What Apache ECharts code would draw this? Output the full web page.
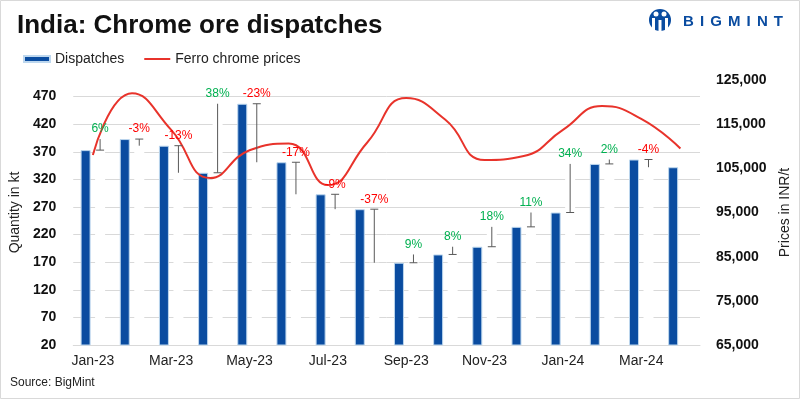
<!DOCTYPE html>
<html>
<head>
<meta charset="utf-8">
<title>India: Chrome ore dispatches</title>
<script src="https://cdn.jsdelivr.net/npm/echarts@6/dist/echarts.min.js"></script>
<style>
  html, body { margin: 0; padding: 0; background: #fff; }
  #chart { width: 800px; height: 399px; }
</style>
</head>
<body>
<div id="chart"></div>
<script>
// months on the x axis
const months = [
  "Jan-23", "Feb-23", "Mar-23", "Apr-23", "May-23", "Jun-23", "Jul-23", "Aug-23",
  "Sep-23", "Oct-23", "Nov-23", "Dec-23", "Jan-24", "Feb-24", "Mar-24", "Apr-24",
];
// chrome ore dispatches, kt
const dispatches = [373, 393, 381, 332, 457, 351, 293, 266, 169, 184, 198, 234, 260, 348, 356, 342];
// ferro chrome prices, INR/t
const prices = [
  108000, 122000, 113700, 102800, 109100, 110600, 101200, 110800,
  120900, 116000, 106900, 107800, 113700, 119100, 116200, 109500,
];
// month-on-month change labels as printed
const pctLabels = ["6%", "-3%", "-13%", "38%", "-23%", "-17%", "-9%", "-37%", "9%", "8%", "18%", "11%", "34%", "2%", "-4%"];

const FONT = "'Liberation Sans', Arial, sans-serif";
const BAR_W = 10;
const BAR_GAP = 0.45;
const BLUE = "#0a4ca0";

// white spacer bar holds next month's value (as in the original workbook)
const nextVals = months.map((m, i) => (i < dispatches.length - 1 ? dispatches[i + 1] : "-"));
const whiskerData = pctLabels.map((t, i) => [i, dispatches[i], dispatches[i + 1]]);

const chart = echarts.init(document.getElementById("chart"));

// BIGMINT wordmark, letters spread out
const logoText = "BIGMINT";
const logoFont = "900 15px " + FONT;
const ctx = document.createElement("canvas").getContext("2d");
ctx.font = logoFont;
const widths = logoText.split("").map((c) => ctx.measureText(c).width);
const total = widths.reduce((a, b) => a + b, 0);
const spacing = (100 - total) / (logoText.length - 1);
const logoLetters = [];
let lx = 683;
logoText.split("").forEach((c, k) => {
  logoLetters.push({
    type: "text",
    x: lx,
    y: 22,
    style: { text: c, fill: BLUE, font: logoFont, verticalAlign: "middle" },
  });
  lx += widths[k] + spacing;
});

const option = {
  animation: false,
  textStyle: { fontFamily: FONT },
  title: {
    text: "India: Chrome ore dispatches",
    left: 12,
    top: 8,
    textStyle: { fontSize: 26, fontWeight: "bold", color: "#111" },
  },
  legend: {
    data: [
      { name: "Dispatches", icon: "rect" },
      { name: "Ferro chrome prices", icon: "path://M0,0 L26,0 L26,2 L0,2 Z" },
    ],
    left: 18,
    top: 47,
    itemWidth: 26,
    itemHeight: 6,
    itemGap: 20,
    selectedMode: false,
    textStyle: { fontSize: 14, color: "#222" },
  },
  graphic: [
    {
      type: "rect",
      silent: true,
      shape: { x: 0.5, y: 0.5, width: 799, height: 398 },
      style: { fill: "none", stroke: "#d9d9d9", lineWidth: 1 },
    },
    {
      type: "group",
      silent: true,
      children: [
        { type: "circle", shape: { cx: 660, cy: 20, r: 11 }, style: { fill: BLUE } },
        { type: "circle", shape: { cx: 656, cy: 14, r: 2.5 }, style: { fill: "#fff" } },
        { type: "circle", shape: { cx: 664, cy: 14, r: 2.5 }, style: { fill: "#fff" } },
        { type: "rect", shape: { x: 652, y: 18, width: 3, height: 14 }, style: { fill: "#fff" } },
        { type: "rect", shape: { x: 665, y: 18, width: 3, height: 14 }, style: { fill: "#fff" } },
        { type: "rect", shape: { x: 658.5, y: 20, width: 3, height: 13 }, style: { fill: "#fff" } },
      ],
    },
    { type: "group", silent: true, children: logoLetters },
    {
      type: "text",
      left: 10,
      top: 377,
      style: { text: "Source: BigMint", font: "12px " + FONT, fill: "#222" },
    },
  ],
  grid: { left: 70, right: 96, top: 80, bottom: 54 },
  xAxis: {
    type: "category",
    data: months,
    axisLine: { lineStyle: { color: "#d9d9d9" } },
    axisTick: { interval: 1, length: 5, lineStyle: { color: "#bfbfbf" } },
    axisLabel: { interval: 1, fontSize: 14, color: "#222", margin: 9 },
  },
  yAxis: [
    {
      type: "value",
      min: 20,
      max: 500,
      interval: 50,
      name: "Quantity in kt",
      nameLocation: "middle",
      nameRotate: 90,
      nameGap: 49,
      nameTextStyle: { fontSize: 14, color: "#222" },
      axisLine: { show: false },
      axisTick: { show: false },
      axisLabel: { showMaxLabel: false, fontSize: 14, fontWeight: "bold", color: "#111", margin: 17 },
      splitLine: { show: true, showMaxLine: false, lineStyle: { color: "#d9d9d9" } },
    },
    {
      type: "value",
      position: "right",
      min: 65000,
      max: 125000,
      interval: 10000,
      name: "Prices in INR/t",
      nameLocation: "middle",
      nameRotate: 90,
      nameGap: 78,
      nameTextStyle: { fontSize: 14, color: "#222" },
      axisLine: { show: false },
      axisTick: { show: false },
      axisLabel: {
        fontSize: 14,
        fontWeight: "bold",
        color: "#111",
        margin: 16,
        formatter: (v) => v.toLocaleString("en-US"),
      },
      splitLine: { show: false },
    },
  ],
  series: [
    {
      name: "Dispatches",
      type: "bar",
      data: dispatches,
      barWidth: BAR_W,
      barGap: BAR_GAP * 100 + "%",
      itemStyle: { color: BLUE, borderColor: "#bdd7ee", borderWidth: 1 },
      silent: true,
    },
    {
      name: "spacer",
      type: "bar",
      data: nextVals,
      barWidth: BAR_W,
      itemStyle: { color: "#fff" },
      silent: true,
    },
    {
      name: "change",
      type: "custom",
      silent: true,
      z: 5,
      data: whiskerData,
      renderItem: function (params, api) {
        const i = api.value(0);
        const p0 = api.coord([i, api.value(1)]);
        const p1 = api.coord([i, api.value(2)]);
        const x = p0[0] + (BAR_W * (1 + BAR_GAP)) / 2;
        const top = Math.min(p0[1], p1[1]);
        const txt = pctLabels[params.dataIndex];
        return {
          type: "group",
          children: [
            {
              type: "line",
              shape: { x1: x, y1: p0[1], x2: x, y2: p1[1] },
              style: { stroke: "#595959", lineWidth: 1 },
            },
            {
              type: "line",
              shape: { x1: x - 4, y1: p0[1], x2: x + 4, y2: p0[1] },
              style: { stroke: "#595959", lineWidth: 1 },
            },
            {
              type: "text",
              x: x,
              y: top - 4,
              style: {
                text: txt,
                font: "12px " + FONT,
                fill: txt.charAt(0) === "-" ? "#ff0000" : "#00b050",
                align: "center",
                verticalAlign: "bottom",
              },
            },
          ],
        };
      },
    },
    {
      name: "Ferro chrome prices",
      type: "line",
      yAxisIndex: 1,
      data: prices,
      smooth: 0.5,
      symbol: "none",
      z: 4,
      lineStyle: { color: "#e8332b", width: 2 },
      itemStyle: { color: "#e8332b" },
    },
  ],
};

chart.setOption(option);
</script>
</body>
</html>
